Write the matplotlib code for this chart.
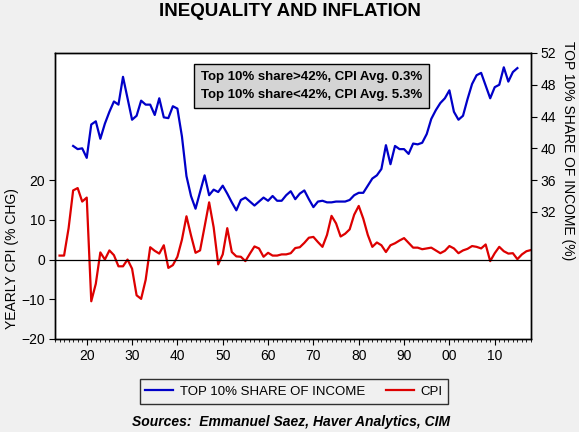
import matplotlib
matplotlib.use("Agg")
import matplotlib.pyplot as plt
from matplotlib.ticker import MultipleLocator, FixedLocator

plt.rcParams['font.family'] = ['Liberation Sans', 'DejaVu Sans']

# CPI, yearly % change, 1914-2018
cpi_years = list(range(1914, 2019))
cpi = [1.0, 1.0, 7.9, 17.4, 18.0, 14.6, 15.6, -10.5, -6.1, 1.8,
       0.0, 2.3, 1.1, -1.7, -1.7, 0.0, -2.3, -9.0, -9.9, -5.1,
       3.1, 2.2, 1.5, 3.6, -2.1, -1.4, 0.7, 5.0, 10.9, 6.1,
       1.7, 2.3, 8.3, 14.4, 8.1, -1.2, 1.3, 7.9, 1.9, 0.8,
       0.7, -0.4, 1.5, 3.3, 2.8, 0.7, 1.7, 1.0, 1.0, 1.3,
       1.3, 1.6, 2.9, 3.1, 4.2, 5.5, 5.7, 4.4, 3.2, 6.2,
       11.0, 9.1, 5.8, 6.5, 7.6, 11.3, 13.5, 10.3, 6.2, 3.2,
       4.3, 3.6, 1.9, 3.6, 4.1, 4.8, 5.4, 4.2, 3.0, 3.0,
       2.6, 2.8, 3.0, 2.3, 1.6, 2.2, 3.4, 2.8, 1.6, 2.3,
       2.7, 3.4, 3.2, 2.8, 3.8, -0.4, 1.6, 3.2, 2.1, 1.5,
       1.6, 0.1, 1.3, 2.1, 2.4]

# top 10% share of income (%), 1917-2015
share_years = list(range(1917, 2016))
share = [40.3, 39.9, 40.0, 38.8, 43.0, 43.4, 41.2, 43.1, 44.6, 45.9,
         45.5, 49.0, 46.3, 43.6, 44.1, 46.0, 45.5, 45.5, 44.2, 46.3,
         43.9, 43.8, 45.3, 45.0, 41.5, 36.5, 34.0, 32.4, 34.5, 36.6,
         34.1, 34.8, 34.5, 35.3, 34.3, 33.2, 32.2, 33.5, 33.8, 33.3,
         32.8, 33.3, 33.8, 33.4, 34.0, 33.4, 33.4, 34.1, 34.6, 33.6,
         34.3, 34.7, 33.6, 32.6, 33.3, 33.4, 33.2, 33.2, 33.3, 33.3,
         33.3, 33.5, 34.1, 34.4, 34.4, 35.3, 36.2, 36.6, 37.4, 40.4,
         38.0, 40.3, 39.9, 39.9, 39.3, 40.6, 40.5, 40.7, 41.8, 43.7,
         44.8, 45.7, 46.3, 47.3, 44.6, 43.6, 44.1, 46.2, 48.1, 49.2,
         49.5, 47.9, 46.3, 47.7, 48.0, 50.2, 48.4, 49.6, 50.1]

decades = list(range(1920, 2020, 10))
decade_labels = ['20', '30', '40', '50', '60', '70', '80', '90', '00', '10']

note_lines = ["Top 10% share>42%, CPI Avg. 0.3%",
              "Top 10% share<42%, CPI Avg. 5.3%"]

bg = '#F0F0F0'
fig = plt.figure(figsize=(5.79, 4.32), dpi=100, facecolor=bg)
ax = fig.add_axes([55/579, 1-339/432, 476/579, 286/432])
ax2 = ax.twinx()

l_cpi, = ax.plot(cpi_years, cpi, color='#DD0000', lw=1.6, label='CPI')
l_share, = ax2.plot(share_years, share, color='#0000C8', lw=1.6,
                    label='TOP 10% SHARE OF INCOME')
ax.axhline(0, color='black', lw=0.9)

ax.set_xlim(1913, 2018)
ax.set_ylim(-20, 52)
ax2.set_ylim(16, 52)
ax.set_yticks([-20, -10, 0, 10, 20])
ax2.set_yticks([32, 36, 40, 44, 48, 52])
ax.xaxis.set_major_locator(FixedLocator(decades))
ax.set_xticklabels(decade_labels)
ax.xaxis.set_minor_locator(MultipleLocator(1))

ax.tick_params(axis='x', which='major', length=4, width=0.8, labelsize=10, pad=3)
ax.tick_params(axis='x', which='minor', length=2, width=0.6)
ax.tick_params(axis='y', length=4, width=0.8, labelsize=10, pad=3)
ax2.tick_params(axis='y', length=4, width=0.8, labelsize=10, pad=3)
for a in (ax, ax2):
    for s in a.spines.values():
        s.set_linewidth(1.0)

fig.text(12/579, 1-259/432, 'YEARLY CPI (% CHG)', rotation=90,
         ha='center', va='center', fontsize=10)
fig.text(568/579, 1-151/432, 'TOP 10% SHARE OF INCOME (%)', rotation=-90,
         ha='center', va='center', fontsize=10)

fig.text(290/579, 1-12/432, 'INEQUALITY AND INFLATION', ha='center',
         va='center', fontsize=13.5, fontweight='bold')

ax.text(0.539, 0.884, "\n".join(note_lines), transform=ax.transAxes,
        ha='center', va='center', fontsize=9.5, fontweight='bold',
        linespacing=1.7,
        bbox=dict(boxstyle='square,pad=0.5', facecolor='#D4D4D4',
                  edgecolor='black', linewidth=1.0))

leg = fig.legend([l_share, l_cpi], ['TOP 10% SHARE OF INCOME', 'CPI'],
                 loc='center', bbox_to_anchor=(294/579, 1-391.5/432), ncol=2,
                 fontsize=9.5, frameon=True, fancybox=False, handlelength=2.1,
                 columnspacing=1.6, borderpad=0.45, handletextpad=0.5)
leg.get_frame().set_edgecolor('black')
leg.get_frame().set_facecolor(bg)
leg.get_frame().set_linewidth(1.0)

fig.text(291/579, 1-422/432, 'Sources:  Emmanuel Saez, Haver Analytics, CIM',
         ha='center', va='center', fontsize=10, fontweight='bold',
         fontstyle='italic')

fig.savefig('out.png', dpi=100, facecolor=bg)
